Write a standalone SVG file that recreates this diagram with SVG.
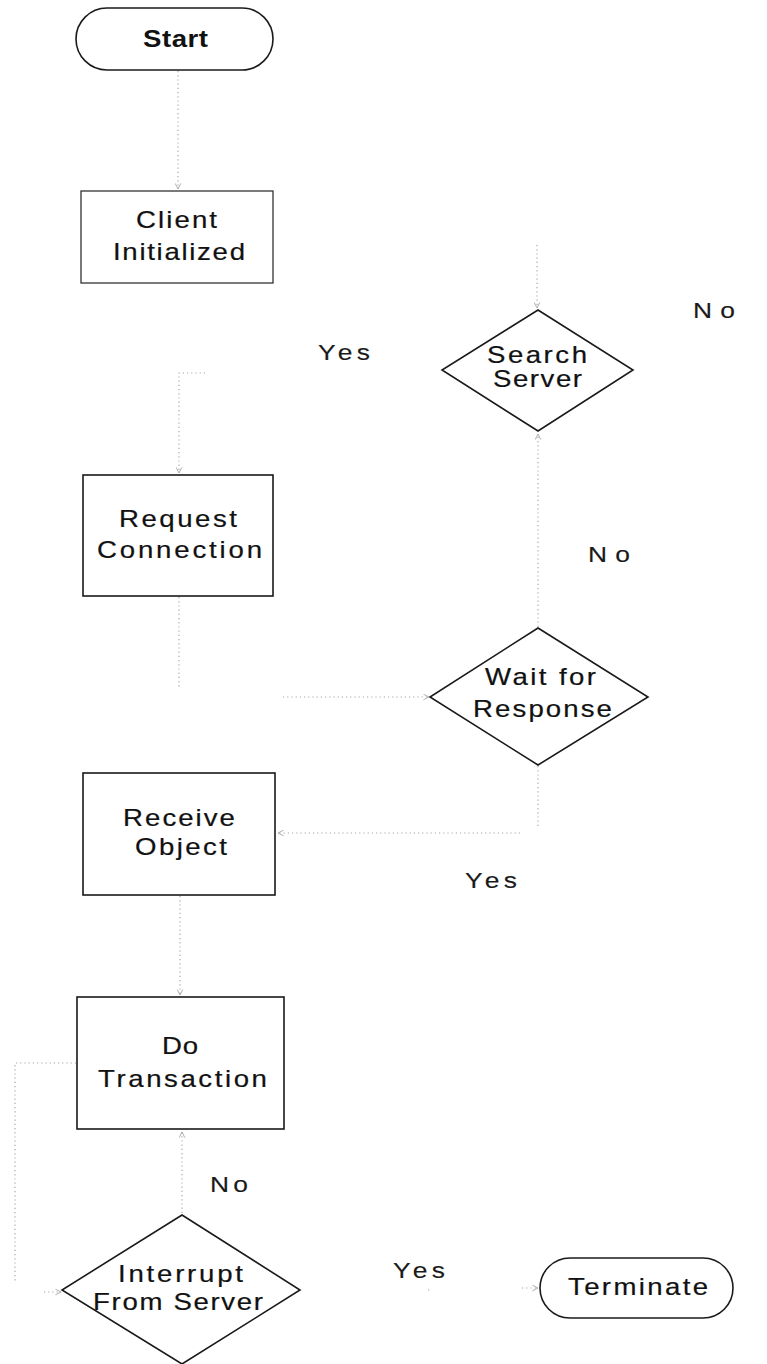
<svg xmlns="http://www.w3.org/2000/svg" width="767" height="1364" viewBox="0 0 767 1364">
  <style>
    .shape { fill: #ffffff; stroke: #1a1a1a; stroke-width: 1.6; }
    .box-light { stroke: #333333; stroke-width: 1.3; }
    .lbl { font-family: "Liberation Sans", Arial, sans-serif; font-size: 23px; fill: #111111; stroke: #111111; stroke-width: 0.2; text-anchor: middle; }
    .bold { font-weight: bold; stroke-width: 0; }
    .edge-lbl { font-family: "Liberation Sans", Arial, sans-serif; font-size: 22px; fill: #1a1a1a; stroke: #1a1a1a; stroke-width: 0.15; text-anchor: middle; }
    .conn { fill: none; stroke: #a8a8a8; stroke-width: 1.2; stroke-dasharray: 1.2 3; }
  </style>
  <defs>
    <marker id="arrow" viewBox="0 0 10 10" refX="9" refY="5" markerWidth="7" markerHeight="7" orient="auto" markerUnits="userSpaceOnUse">
      <path d="M1,1 L9,5 L1,9" fill="none" stroke="#a0a0a0" stroke-width="1.2"/>
    </marker>
  </defs>
  <rect width="767" height="1364" fill="#ffffff"/>

  <!-- connectors -->
  <g id="connectors">
    <path class="conn" d="M178,71 V189" marker-end="url(#arrow)"/>
    <path class="conn" d="M537,245 V308" marker-end="url(#arrow)"/>
    <path class="conn" d="M205,373 H179 V473" marker-end="url(#arrow)"/>
    <path class="conn" d="M538,627 V434" marker-end="url(#arrow)"/>
    <path class="conn" d="M179,597 V688 M283,697 H429" marker-end="url(#arrow)"/>
    <path class="conn" d="M538,766 V828 M520,833 H278" marker-end="url(#arrow)"/>
    <path class="conn" d="M180,896 V995" marker-end="url(#arrow)"/>
    <path class="conn" d="M182,1213 V1132" marker-end="url(#arrow)"/>
    <path class="conn" d="M76,1063 H15 V1282 M44,1292 H61" marker-end="url(#arrow)"/>
    <path class="conn" d="M428,1290 H430 M522,1288 H538" marker-end="url(#arrow)"/>
  </g>

  <!-- edge labels (text widened 1.2x, spacing fills the rest) -->
  <g id="edge-labels">
    <text class="edge-lbl" transform="translate(344,360) scale(1.2,1)" textLength="43.3">Yes</text>
    <text class="edge-lbl" transform="translate(714,318) scale(1.2,1)" textLength="35">No</text>
    <text class="edge-lbl" transform="translate(609,562) scale(1.2,1)" textLength="35">No</text>
    <text class="edge-lbl" transform="translate(491,888) scale(1.2,1)" textLength="43.3">Yes</text>
    <text class="edge-lbl" transform="translate(229,1192) scale(1.2,1)" textLength="31.7">No</text>
    <text class="edge-lbl" transform="translate(419,1278) scale(1.2,1)" textLength="43.3">Yes</text>
  </g>

  <g id="start">
    <rect class="shape" x="76" y="8" width="197" height="62" rx="31" ry="31"/>
    <text class="lbl bold" transform="translate(175.5,47) scale(1.2,1)" textLength="54.2">Start</text>
  </g>

  <g id="client-initialized">
    <rect class="shape box-light" x="81" y="191" width="192" height="92"/>
    <text class="lbl" transform="translate(176.5,228) scale(1.2,1)" textLength="67.5">Client</text>
    <text class="lbl" transform="translate(179,260) scale(1.2,1)" textLength="110">Initialized</text>
  </g>

  <g id="search-server">
    <polygon class="shape" points="538,310 633,370 538,431 442,370"/>
    <text class="lbl" transform="translate(537,363) scale(1.2,1)" textLength="83.3">Search</text>
    <text class="lbl" transform="translate(537.5,387) scale(1.2,1)" textLength="74.2">Server</text>
  </g>

  <g id="request-connection">
    <rect class="shape" x="83" y="475" width="190" height="121"/>
    <text class="lbl" transform="translate(178,527) scale(1.2,1)" textLength="98.3">Request</text>
    <text class="lbl" transform="translate(179.5,558) scale(1.2,1)" textLength="137.5">Connection</text>
  </g>

  <g id="wait-for-response">
    <polygon class="shape" points="538,628 648,697 538,765 430,697"/>
    <text class="lbl" transform="translate(540.5,685) scale(1.2,1)" textLength="92.5">Wait for</text>
    <text class="lbl" transform="translate(542.5,717) scale(1.2,1)" textLength="115.8">Response</text>
  </g>

  <g id="receive-object">
    <rect class="shape" x="83" y="773" width="192" height="122"/>
    <text class="lbl" transform="translate(179,826) scale(1.2,1)" textLength="93.3">Receive</text>
    <text class="lbl" transform="translate(181,855) scale(1.2,1)" textLength="76.7">Object</text>
  </g>

  <g id="do-transaction">
    <rect class="shape" x="77" y="997" width="207" height="132"/>
    <text class="lbl" transform="translate(180,1054) scale(1.2,1)" textLength="30">Do</text>
    <text class="lbl" transform="translate(182.5,1087) scale(1.2,1)" textLength="140.8">Transaction</text>
  </g>

  <g id="interrupt-from-server">
    <polygon class="shape" points="182,1215 300,1290 182,1364 62,1290"/>
    <text class="lbl" transform="translate(180.5,1282) scale(1.2,1)" textLength="104.2">Interrupt</text>
    <text class="lbl" transform="translate(178,1310) scale(1.2,1)" textLength="141.7">From Server</text>
  </g>

  <g id="terminate">
    <rect class="shape" x="540" y="1258" width="193" height="60" rx="30" ry="30"/>
    <text class="lbl" transform="translate(638,1295) scale(1.2,1)" textLength="116.7">Terminate</text>
  </g>
</svg>
